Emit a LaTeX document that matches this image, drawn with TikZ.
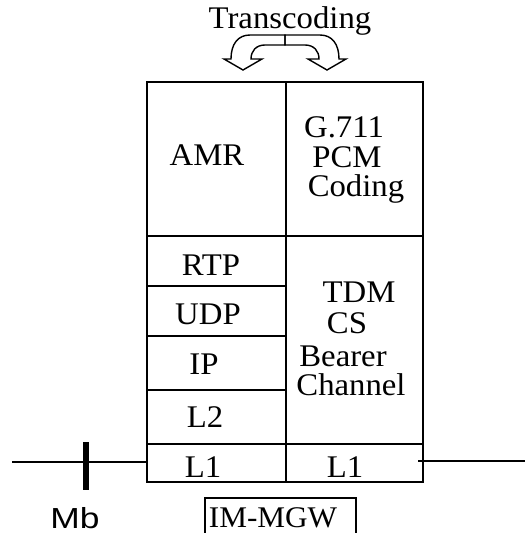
\documentclass[tikz,border=0pt]{standalone}
\usepackage{fontspec}
\setmainfont[FakeStretch=1.04]{Liberation Serif}
\newfontfamily\mbfont[FakeStretch=1.22]{Liberation Sans}
\begin{document}
\begin{tikzpicture}[x=1pt,y=-1pt,
  lbl/.style={anchor=base,inner sep=0pt,font=\fontsize{31.5}{30}\selectfont},
  thin/.style={line width=1.4pt},
  thick2/.style={line width=2.4pt},
  arr/.style={line width=1.4pt,line join=miter}]
\useasboundingbox (0,0) rectangle (525,533);
% title
\node[lbl] (trans) at (290,28) {Transcoding};
% transcoding arrows
\draw[arr] (285,35) -- (250,35) .. controls (238,35) and (231,44) .. (231,59)
  -- (224,59) -- (243,70) -- (262,59) -- (251,59)
  .. controls (251,51) and (256,45) .. (265,45) -- (285,45) -- cycle;
\draw[arr] (285,35) -- (320,35) .. controls (332,35) and (339,44) .. (339,59)
  -- (346,59) -- (327,70) -- (308,59) -- (319,59)
  .. controls (319,51) and (314,45) .. (305,45) -- (285,45) -- cycle;
% main box
\coordinate (tl) at (147,82);
\coordinate (br) at (423,482);
\draw[thin] (tl) rectangle (br);
\draw[thick2] (286,82) -- (286,482);
\draw[thin] (147,236) -- (423,236);
\draw[thin] (147,286) -- (286,286);
\draw[thick2] (147,336) -- (286,336);
\draw[thin] (147,390) -- (286,390);
\draw[thick2] (147,444) -- (423,444);
% labels
\node[lbl] (amr) at (207,165) {AMR};
\node[lbl] (g711) at (344,137) {G.711};
\node[lbl] (pcm) at (347,167) {PCM};
\node[lbl] (coding) at (356,196) {Coding};
\node[lbl] (rtp) at (211,275) {RTP};
\node[lbl] (udp) at (208,324) {UDP};
\node[lbl] (ip) at (204,374) {IP};
\node[lbl] (l2) at (205,427) {L2};
\node[lbl] (l1a) at (203,477) {L1};
\node[lbl] (l1b) at (345,477) {L1};
\node[lbl] (tdm) at (359,302) {TDM};
\node[lbl] (cs) at (347,333) {CS};
\node[lbl] (bearer) at (343,366) {Bearer};
\node[lbl] (channel) at (351,395) {Channel};
% interface lines
\coordinate (lstart) at (12,462);
\coordinate (lend) at (147,462);
\draw[thin] (lstart) -- (lend);
\draw[line width=6pt] (86,442) -- (86,490);
\coordinate (rstart) at (418,461);
\coordinate (rend) at (525,461);
\draw[thin] (rstart) -- (rend);
\node[anchor=base,inner sep=0pt,font=\mbfont\fontsize{29}{29}\selectfont] (mb) at (75,528) {Mb};
% IM-MGW label box (open at bottom)
\draw[thin] (205,540) -- (205,498) -- (356,498) -- (356,540);
\node[lbl,font=\fontsize{30}{30}\selectfont] (mgw) at (273,527) {IM-MGW};
\end{tikzpicture}
\end{document}
